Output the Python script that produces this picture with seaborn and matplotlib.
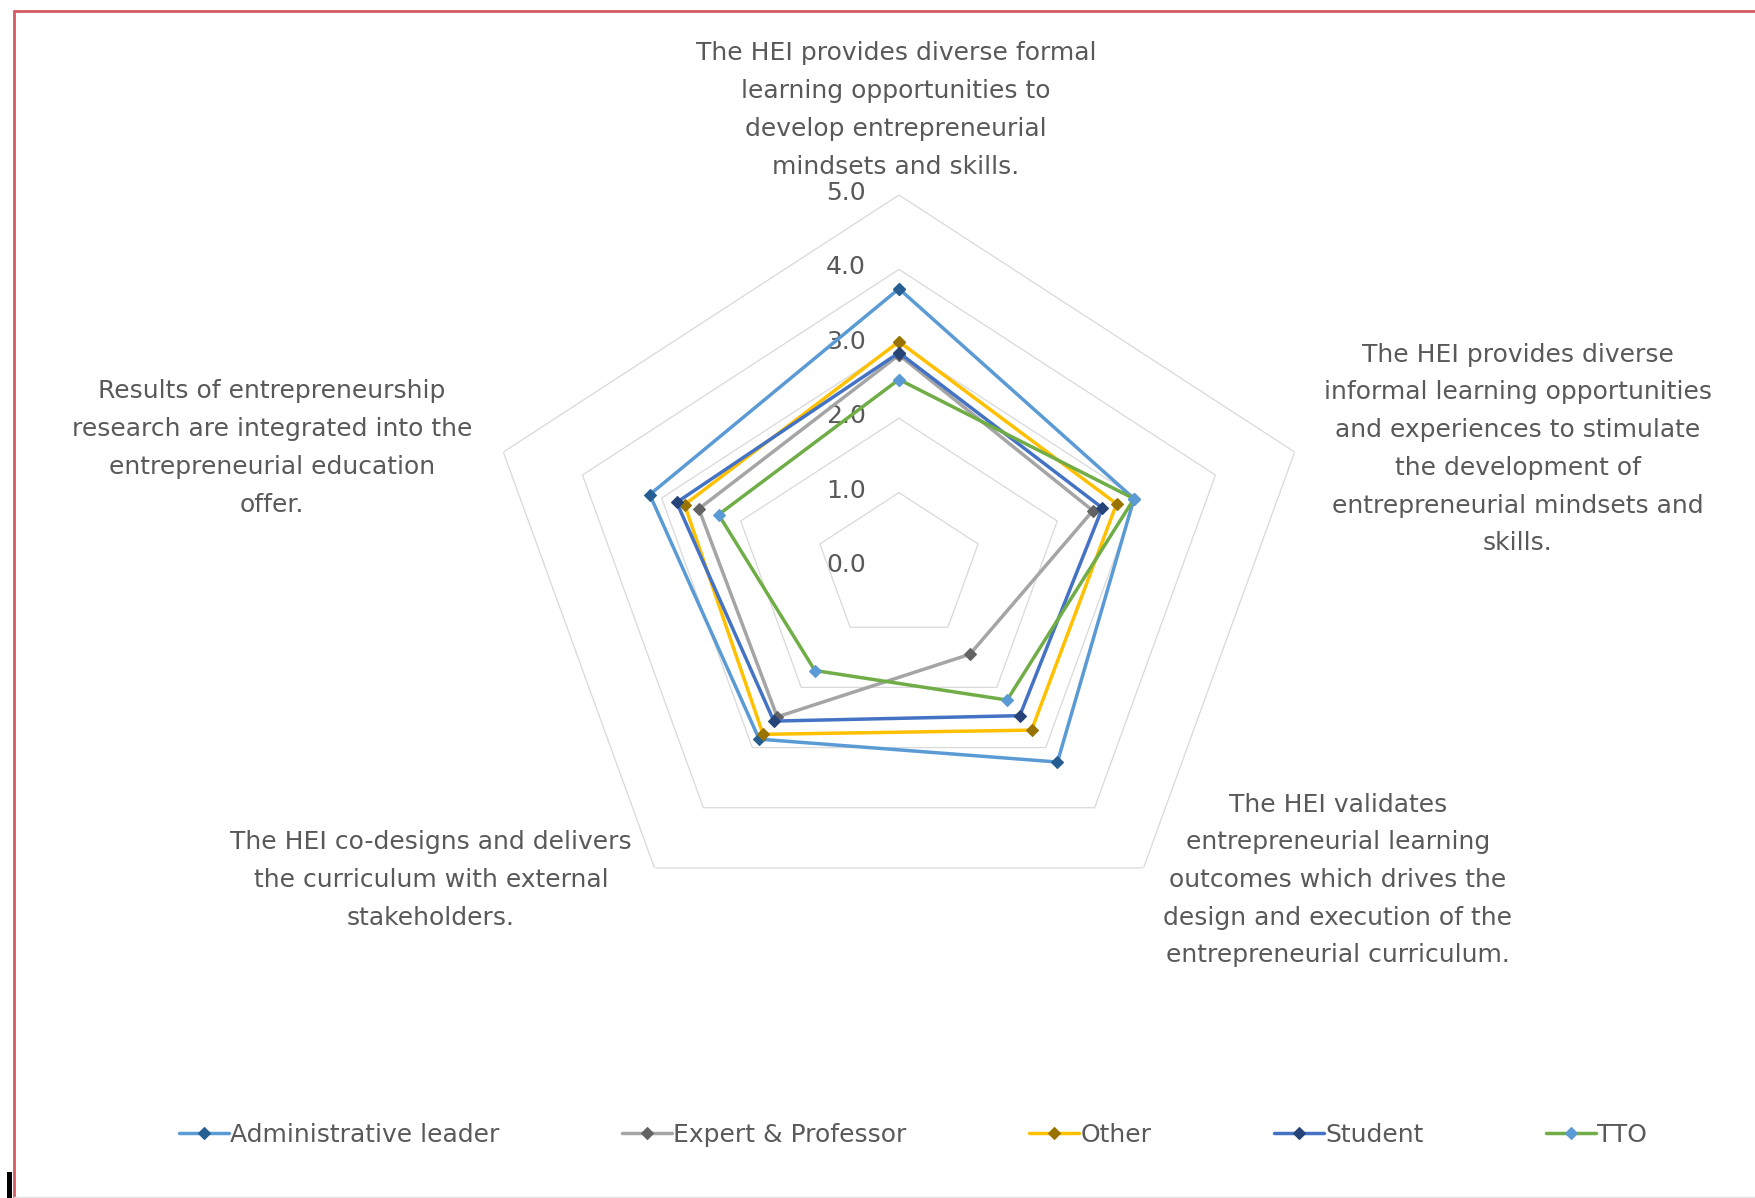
import numpy as np
import pandas as pd
import matplotlib
matplotlib.use("Agg")
import matplotlib.pyplot as plt
import matplotlib.transforms as mtransforms
from matplotlib.lines import Line2D
from matplotlib.patches import Rectangle
import seaborn as sns

# ---------------- data ----------------
categories = [
    "The HEI provides diverse formal\nlearning opportunities to\ndevelop entrepreneurial\nmindsets and skills.",
    "The HEI provides diverse\ninformal learning opportunities\nand experiences to stimulate\nthe development of\nentrepreneurial mindsets and\nskills.",
    "The HEI validates\nentrepreneurial learning\noutcomes which drives the\ndesign and execution of the\nentrepreneurial curriculum.",
    "The HEI co-designs and delivers\nthe curriculum with external\nstakeholders.",
    "Results of entrepreneurship\nresearch are integrated into the\nentrepreneurial education\noffer.",
]
series_names = ["Administrative leader", "Expert & Professor", "Other", "Student", "TTO"]
admin_leader = [3.74, 2.97, 3.24, 2.86, 3.15]
expert_professor = [2.85, 2.45, 1.45, 2.49, 2.53]
other = [3.03, 2.75, 2.71, 2.78, 2.71]
student = [2.88, 2.57, 2.47, 2.56, 2.81]
tto = [2.52, 2.97, 2.21, 1.72, 2.28]
radial_ticks = [0.0, 1.0, 2.0, 3.0, 4.0, 5.0]
radial_labels = ["0.0", "1.0", "2.0", "3.0", "4.0", "5.0"]

series_values = [admin_leader, expert_professor, other, student, tto]
line_colors = ["#5B9BD5", "#A5A5A5", "#FFC000", "#4472C4", "#70AD47"]
marker_colors = ["#255E91", "#636363", "#997300", "#264478", "#5B9BD5"]

# ---------------- style ----------------
sns.set_style("white")
plt.rcParams["font.family"] = ["DejaVu Sans"]
TXT = "#595959"
FS = 18

W, H = 1756, 1198
fig = plt.figure(figsize=(W / 100, H / 100), dpi=100)
fig.patch.set_facecolor("white")

# polar axes centred at (899, 567) px; the reference is stretched horizontally
cx, cy, Ry, Rx = 899, 567, 372, 416
ax = fig.add_axes([(cx - Rx) / W, (H - cy - Ry) / H, 2 * Rx / W, 2 * Ry / H],
                  projection="polar")
ax.set_aspect("auto")
ax.set_theta_zero_location("N")
ax.set_theta_direction(-1)

n = len(categories)
theta = np.linspace(0, 2 * np.pi, n + 1)  # closed

# polygon gridlines
for t in radial_ticks[1:]:
    ax.plot(theta, [t] * (n + 1), color="#D9D9D9", lw=0.9, zorder=1)

handles = []
for name, vals, lc, mc in zip(series_names, series_values, line_colors, marker_colors):
    df = pd.DataFrame({"theta": theta, "value": list(vals) + [vals[0]]})
    sns.lineplot(data=df, x="theta", y="value", ax=ax, sort=False,
                 color=lc, lw=2.5, marker="D", markersize=6,
                 markerfacecolor=mc, markeredgecolor=mc, markeredgewidth=0.8,
                 zorder=3, legend=False)
    ln = ax.lines[-1]
    ln.set_markerfacecolor(mc)
    ln.set_markeredgecolor(mc)
    ln.set_label(name)
    handles.append(ln)

ax.set_ylim(0, 5)
ax.set_xticks([])
ax.set_yticks([])
ax.grid(False)
ax.spines["polar"].set_visible(False)
ax.set_xlabel("")
ax.set_ylabel("")
ax.patch.set_alpha(0)

# radial tick labels left of the top axis
off = mtransforms.offset_copy(ax.transData, fig=fig, x=-33, y=2, units="dots")
for t, lab in zip(radial_ticks, radial_labels):
    ax.text(0, t, lab, transform=off, ha="right", va="center",
            fontsize=FS, color=TXT, zorder=2)

# category labels (figure pixel centres)
label_pos = [(896, 110), (1518, 449), (1338, 880), (431, 880), (272, 448)]
for txt, (px, py) in zip(categories, label_pos):
    fig.text(px / W, 1 - py / H, txt, ha="center", va="center",
             fontsize=FS, color=TXT, linespacing=1.72)

# legend
fig.legend(handles=handles, labels=series_names, loc="center",
           bbox_to_anchor=(913 / W, 1 - 1135 / H), ncol=5, frameon=False,
           fontsize=FS, labelcolor=TXT, handlelength=2.0, handletextpad=0.05,
           columnspacing=4.9, numpoints=1)

# outer frame (cropped chart border)
fig.add_artist(Line2D([14 / W, 1.01], [1 - 11 / H, 1 - 11 / H],
                      transform=fig.transFigure, color="#D45A66", lw=2))
fig.add_artist(Line2D([14 / W, 14 / W], [-0.01, 1 - 11 / H],
                      transform=fig.transFigure, color="#D45A66", lw=2))
fig.add_artist(Line2D([14 / W, 1.0], [1.5 / H, 1.5 / H],
                      transform=fig.transFigure, color="#E3E3E3", lw=1))
fig.add_artist(Rectangle((7 / W, 0), 5 / W, 26 / H, transform=fig.transFigure,
                         color="black", lw=0))

fig.savefig("out.png", dpi=100)
